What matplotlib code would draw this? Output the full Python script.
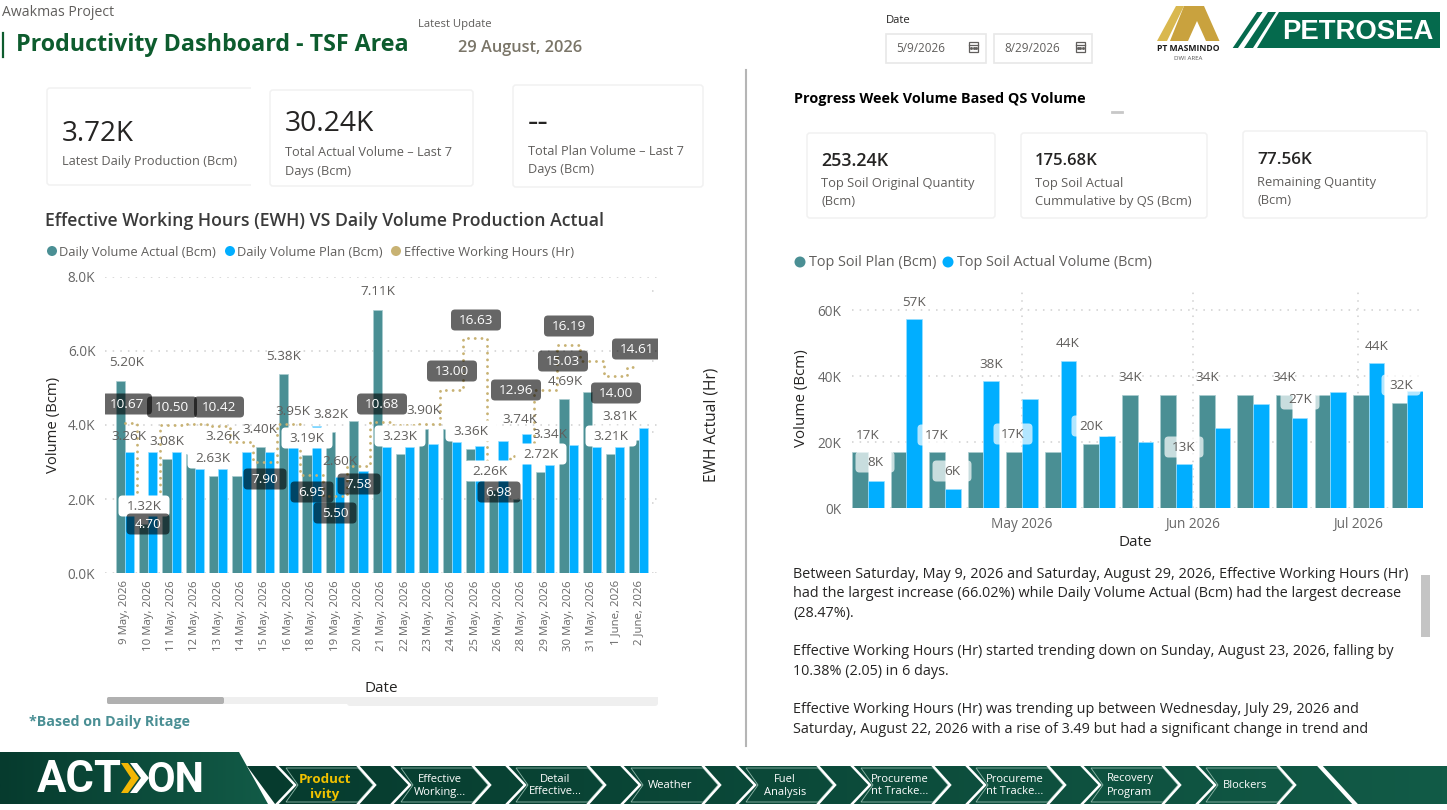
import matplotlib
matplotlib.use("Agg")
import matplotlib.pyplot as plt
import matplotlib.dates as mdates
import numpy as np
from matplotlib.patches import FancyBboxPatch, Polygon, Circle, Rectangle
from matplotlib.ticker import FuncFormatter

plt.rcParams['font.family'] = ['Open Sans', 'DejaVu Sans']

# ---------- data ----------
days = ["9 May, 2026", "10 May, 2026", "11 May, 2026", "12 May, 2026", "13 May, 2026", "14 May, 2026",
        "15 May, 2026", "16 May, 2026", "18 May, 2026", "19 May, 2026", "20 May, 2026", "21 May, 2026",
        "22 May, 2026", "23 May, 2026", "24 May, 2026", "25 May, 2026", "26 May, 2026", "28 May, 2026",
        "29 May, 2026", "30 May, 2026", "31 May, 2026", "1 June, 2026", "2 June, 2026"]
daily_actual = [5.20, 1.32, 3.08, 3.21, 2.63, 2.63, 3.40, 5.38, 3.19, 3.82, 4.10, 7.11,
                3.23, 3.90, 3.90, 3.36, 2.26, 2.00, 2.72, 4.69, 4.89, 3.21, 3.60]
daily_plan = [3.26, 3.26, 3.26, 2.82, 2.82, 3.26, 3.26, 3.40, 3.98, 2.60, 2.76, 3.41,
              3.41, 3.49, 3.55, 3.44, 3.57, 3.75, 2.92, 3.47, 3.41, 3.41, 3.92]
ewh = [10.67, 4.70, 10.50, 10.55, 10.42, 9.30, 7.90, 10.55, 6.95, 5.50, 7.58, 10.68,
       10.50, 10.60, 13.00, 16.63, 6.98, 8.30, 12.96, 16.19, 15.03, 14.00, 14.61]

week_start = ["2026-04-03", "2026-04-10", "2026-04-17", "2026-04-24", "2026-05-01", "2026-05-08",
              "2026-05-15", "2026-05-22", "2026-05-29", "2026-06-05", "2026-06-12", "2026-06-19",
              "2026-06-26", "2026-07-03", "2026-07-10"]
soil_plan = [17.1, 17.1, 17.1, 17.1, 17.1, 17.1, 19.6, 34.4, 34.4, 34.4, 34.4, 34.4, 34.4, 34.4, 32.0]
soil_actual = [8.4, 57.2, 5.9, 38.4, 33.2, 44.5, 22.0, 20.0, 13.3, 24.4, 31.7, 27.4, 35.2, 43.9, 35.6]

# label texts (as read), and where they sit on the page
value_labels = [("5.20K", 127, 362, 0), ("3.26K", 129, 436, 0), ("3.08K", 167, 441, 0), ("1.32K", 144, 506, 1),
                ("2.63K", 213, 458, 1), ("3.26K", 223, 436, 0), ("3.40K", 260, 429, 0), ("5.38K", 284, 356, 0),
                ("3.95K", 293, 411, 0), ("3.19K", 307, 438, 1), ("3.82K", 331, 414, 0), ("2.60K", 340, 461, 0),
                ("7.11K", 378, 291, 0), ("3.23K", 400, 436, 1), ("3.90K", 424, 410, 0), ("3.36K", 471, 431, 1),
                ("2.26K", 490, 471, 1), ("3.74K", 520, 419, 0), ("2.72K", 541, 454, 1), ("3.34K", 550, 434, 0),
                ("4.69K", 565, 381, 0), ("3.81K", 620, 416, 0), ("3.21K", 611, 436, 1)]
hour_labels = [("10.67", 127, 404), ("10.50", 172, 407), ("10.42", 219, 407), ("4.70", 148, 524),
               ("7.90", 265, 479), ("6.95", 312, 492), ("5.50", 335, 513), ("7.58", 359, 484),
               ("10.68", 382, 404), ("13.00", 452, 371), ("16.63", 476, 320), ("12.96", 516, 390),
               ("6.98", 499, 492), ("16.19", 569, 326), ("15.03", 563, 361), ("14.00", 616, 393),
               ("14.61", 637, 349)]
soil_labels = [("17K", 868, 435, 0), ("8K", 875, 462, 1), ("57K", 914, 302, 0), ("17K", 937, 435, 1),
               ("6K", 952, 471, 1), ("38K", 991, 364, 0), ("17K", 1013, 434, 1), ("44K", 1068, 343, 0),
               ("20K", 1091, 426, 1), ("34K", 1130, 377, 0), ("13K", 1184, 447, 1), ("34K", 1207, 377, 0),
               ("34K", 1284, 377, 0), ("27K", 1300, 399, 1), ("44K", 1377, 346, 0), ("32K", 1401, 385, 1)]
nav_items = ["Effective\nWorking...", "Detail\nEffective...", "Weather", "Fuel\nAnalysis",
             "Procureme\nnt Tracke...", "Procureme\nnt Tracke...", "Recovery\nProgram", "Blockers"]
summary = [
    (574, "Between Saturday, May 9, 2026 and Saturday, August 29, 2026, Effective Working Hours (Hr)"),
    (593, "had the largest increase (66.02%) while Daily Volume Actual (Bcm) had the largest decrease"),
    (613, "(28.47%)."),
    (651, "Effective Working Hours (Hr) started trending down on Sunday, August 23, 2026, falling by"),
    (671, "10.38% (2.05) in 6 days."),
    (709, "Effective Working Hours (Hr) was trending up between Wednesday, July 29, 2026 and"),
    (729, "Saturday, August 22, 2026 with a rise of 3.49 but had a significant change in trend and"),
]

TEAL = "#4A8F94"
BLUE = "#01AEFF"
GOLD = "#C8B273"
GRAY = "#605E5C"
INK = "#252423"
W, H = 1447, 810

fig = plt.figure(figsize=(W / 100, H / 100), dpi=100, facecolor="white")


def px_axes(l, t, r, b, **kw):
    return fig.add_axes([l / W, 1 - b / H, (r - l) / W, (b - t) / H], **kw)


# ---------- left chart ----------
ax = px_axes(105, 276.7, 658, 573.3, zorder=2)
x = np.arange(len(days))
bw = 0.394
ax.set_axisbelow(True)
ax.grid(axis="y", color="#cfcfcf", lw=1.1, linestyle=(0, (1, 4)))
ax.bar(x - bw / 2, daily_actual, bw, color=TEAL, edgecolor="#A9CDD0", linewidth=0.5)
ax.bar(x + bw / 2, daily_plan, bw, color=BLUE, edgecolor="#9ADFFF", linewidth=0.5)
ax.set_xlim(-0.85, 22.83)
ax.set_ylim(0, 8)
ax.set_yticks([0, 2, 4, 6, 8])
ax.yaxis.set_major_formatter(FuncFormatter(lambda v, p: f"{v:.1f}K"))
ax.set_xticks(x, days, rotation=90, fontsize=8.2, color="#666666")
ax.tick_params(axis="x", length=0, pad=5)
ax.tick_params(axis="y", length=0, pad=7, labelsize=9.8, labelcolor="#666666")
for s in ax.spines.values():
    s.set_visible(False)
ax2 = ax.twinx()
ax2.set_ylim(0, 21)
ax2.set_yticks([])
for s in ax2.spines.values():
    s.set_visible(False)
ax2.hlines([0, 5, 10, 15, 20], 0.989, 1.0, transform=ax2.get_yaxis_transform(),
           colors="#cfcfcf", lw=1.1, linestyles=[(0, (1, 4))])
ax2.plot(x, ewh, drawstyle="steps-mid", color=GOLD, lw=2.1,
         linestyle=(0, (0.01, 2.3)), dash_capstyle="round", dash_joinstyle="round")

# ---------- right chart ----------
ax3 = px_axes(852, 287, 1423, 508.3, zorder=2)
dates = mdates.date2num(np.array(week_start, dtype="datetime64[D]"))
bd = 2.84
ax3.set_axisbelow(True)
ax3.grid(axis="both", color="#cfcfcf", lw=1.1, linestyle=(0, (1, 4)))
ax3.bar(dates - bd / 2, soil_plan, bd, color=TEAL, edgecolor="#A9CDD0", linewidth=0.5)
ax3.bar(dates + bd / 2, soil_actual, bd, color=BLUE, edgecolor="#9ADFFF", linewidth=0.5)
ax3.set_xlim(dates[0] - 2.9, dates[-1] + 2.88)
ax3.set_ylim(0, 67)
ax3.set_yticks([0, 20, 40, 60])
ax3.yaxis.set_major_formatter(FuncFormatter(lambda v, p: f"{v:.0f}K"))
ax3.xaxis.set_major_locator(mdates.MonthLocator(bymonth=[5, 6, 7]))
ax3.xaxis.set_major_formatter(mdates.DateFormatter("%b %Y"))
ax3.tick_params(axis="x", length=0, pad=6, labelsize=9.8, labelcolor="#666666")
ax3.tick_params(axis="y", length=0, pad=7.5, labelsize=9.8, labelcolor="#666666")
for s in ax3.spines.values():
    s.set_visible(False)

# ---------- overlay in page pixels ----------
ov = fig.add_axes([0, 0, 1, 1], zorder=10)
ov.set_xlim(0, W)
ov.set_ylim(H, 0)
ov.axis("off")
ov.patch.set_alpha(0)
rend = fig.canvas.get_renderer()


def T(x, y, s, size=10, w=None, color=INK, ha="left", va="center", **kw):
    t = ov.text(x, y, s, fontsize=size, color=color, ha=ha, va=va, **kw)
    if w is not None:
        t.set_fontsize(size * w / t.get_window_extent(rend).width)
    t.set_y(y + 1.5 + max(t.get_fontsize() - 9, 0) * 0.12)
    return t


def box(x0, y0, x1, y1, fc="white", ec="none", r=4, lw=1, z=3, clip=None):
    p = FancyBboxPatch((x0 + r, y0 + r), x1 - x0 - 2 * r, y1 - y0 - 2 * r,
                       boxstyle=f"round,pad={r},rounding_size={r}", fc=fc, ec=ec, lw=lw, zorder=z)
    ov.add_patch(p)
    if clip is not None:
        p.set_clip_box(clip)
    return p


# header
T(2, 11, "Awakmas Project", 10, w=112, color=GRAY)
ov.plot([3, 3], [33, 57], color="#0D5C2E", lw=1.6)
T(16, 43, "Productivity Dashboard - TSF Area", 17, w=392, color="#0D5C2E", fontweight="bold")
T(418, 23, "Latest Update", 8, w=74, color=GRAY)
T(458, 46, "29 August, 2026", 11, w=124, color="#7A7568", fontweight="semibold")
T(886, 19, "Date", 8, w=25, color=INK)
for x0, x1, s, tw, ic in [(886, 986, "5/9/2026", 49, 973.5), (994, 1092, "8/29/2026", 55, 1080)]:
    ov.add_patch(Rectangle((x0, 33.5), x1 - x0, 29, fc="white", ec="#E8E8E8", lw=1.2))
    T(x0 + 10, 47, s, 8, w=tw, color=GRAY)
    ov.add_patch(Rectangle((ic - 4.5, 42), 9, 10, fc="white", ec=GRAY, lw=0.9))
    ov.plot([ic - 4.5, ic + 4.5], [44.5, 44.5], color=GRAY, lw=0.9)
    ov.plot([ic - 2.5, ic, ic + 2.5], [48, 48, 48], ls="none", marker="s", ms=1, color=GRAY)

# logos
for pts, col in [([(1157, 41), (1176, 6), (1184, 6), (1167, 41)], "#D9B84F"),
                 ([(1184, 6), (1204, 6), (1219.5, 41), (1206, 41), (1197, 21), (1188, 41), (1170, 41)], "#C9A23E")]:
    ov.add_patch(Polygon(pts, closed=True, fc=col, ec="none"))
T(1188, 47, "PT MASMINDO", 6, w=63, color="#1c1c1c", ha="center", fontweight="bold")
T(1188, 57, "DWI AREA", 4, w=28, color="#555555", ha="center")
P_GREEN = "#056A4D"
ov.add_patch(Polygon([(1279, 12), (1440, 12), (1440, 48), (1257, 48)], closed=True, fc=P_GREEN))
ov.add_patch(Polygon([(1257, 12), (1262.6, 12), (1238, 48), (1232.7, 48)], closed=True, fc=P_GREEN))
ov.add_patch(Polygon([(1268, 12), (1276, 12), (1253, 48), (1244, 48)], closed=True, fc=P_GREEN))
T(1282, 29, "PETROSEA", 17, w=151, color="white", fontweight="bold", family="Liberation Sans")

# separator
ov.plot([746, 746], [70, 746], color="#B5B5B5", lw=1.5)

# cards left
CARD = "#F1F1F1"
for x0, y0, x1, y1 in [(47, 88, 262, 185), (270, 90, 473, 186), (513, 85, 703, 187)]:
    box(x0, y0, x1, y1, ec=CARD, r=3, lw=1.1)
ov.add_patch(Rectangle((250.5, 84), 14, 104, fc="white", ec="none", zorder=3.1))
T(62, 131, "3.72K", 20, w=72, zorder=4)
T(62, 160, "Latest Daily Production (Bcm)", 9, w=176, color=GRAY, zorder=4)
T(285, 121, "30.24K", 20, w=89, zorder=4)
T(285, 151, "Total Actual Volume – Last 7", 9, w=168, color=GRAY, zorder=4)
T(285, 170, "Days (Bcm)", 9, w=66, color=GRAY, zorder=4)
T(528, 120, "--", 20, w=21, zorder=4)
T(528, 150, "Total Plan Volume – Last 7", 9, w=156, color=GRAY, zorder=4)
T(528, 168, "Days (Bcm)", 9, w=66, color=GRAY, zorder=4)

# cards right
for x0, y0, x1, y1 in [(807, 133, 995, 218), (1021, 133, 1207, 218), (1243, 131, 1427, 218)]:
    box(x0, y0, x1, y1, ec=CARD, r=3, lw=1.1)
T(794, 97, "Progress Week Volume Based QS Volume", 10, w=292, color="black", fontweight="bold")
ov.plot([1112, 1122], [112, 112], color="#C8C8C8", lw=2)
T(821, 159, "253.24K", 12.5, w=67, fontweight="semibold", zorder=4)
T(821, 182, "Top Soil Original Quantity", 9, w=155, color=GRAY, zorder=4)
T(821, 200, "(Bcm)", 9, w=34, color=GRAY, zorder=4)
T(1035, 159, "175.68K", 12.5, w=63, fontweight="semibold", zorder=4)
T(1035, 182, "Top Soil Actual", 9, w=89, color=GRAY, zorder=4)
T(1035, 200, "Cummulative by QS (Bcm)", 9, w=157, color=GRAY, zorder=4)
T(1257, 158, "77.56K", 12.5, w=55, fontweight="semibold", zorder=4)
T(1257, 181, "Remaining Quantity", 9, w=120, color=GRAY, zorder=4)
T(1257, 199, "(Bcm)", 9, w=34, color=GRAY, zorder=4)

# left headings / legend
T(45, 219, "Effective Working Hours (EWH) VS Daily Volume Production Actual", 11.5, w=558,
  color="#3A3A3A", fontweight="semibold")
for cx, col, tx, s, w in [(52, TEAL, 59, "Daily Volume Actual (Bcm)", 158),
                          (230, BLUE, 237, "Daily Volume Plan (Bcm)", 146),
                          (396, GOLD, 404, "Effective Working Hours (Hr)", 171)]:
    ov.add_patch(Circle((cx, 251), 5, fc=col, ec="none"))
    T(tx, 251, s, 9, w=w, color=GRAY)
T(53, 423, "Volume (Bcm)", 10.7, color=INK, rotation=90, ha="center")
T(711, 423, "EWH Actual (Hr)", 11.2, color=INK, rotation=90, ha="center")
T(381, 687, "Date", 11, color=INK, ha="center")

# scrollbar + note
ov.add_patch(Rectangle((107, 697), 551, 7, fc="#EFEFEF", ec="none"))
box(347, 697, 658, 706, fc="#EFEFEF", r=3)
box(107, 697, 224, 704, fc="#B0B0B0", r=2)
T(29, 720, "*Based on Daily Ritage", 10, w=161, color=TEAL, fontweight="bold")

# right legend
for cx, col, tx, s, w in [(800, TEAL, 809, "Top Soil Plan (Bcm)", 127),
                          (948, BLUE, 957, "Top Soil Actual Volume (Bcm)", 195)]:
    ov.add_patch(Circle((cx, 262), 5.5, fc=col, ec="none"))
    T(tx, 261, s, 10, w=w, color=GRAY)
T(802, 396, "Volume (Bcm)", 10.9, color=INK, rotation=90, ha="center")
T(1135, 541, "Date", 11, color=INK, ha="center")

# left chart labels
for s, cx, cy, b in value_labels:
    if b:
        box(cx - 25.5, cy - 10.5, cx + 25.5, cy + 10.5, fc="white", z=5, r=4)
    T(cx, cy - 1, s, 9.7, color=GRAY, ha="center", zorder=6)
for s, cx, cy in hour_labels:
    hw = 25 if len(s) == 5 else 21.5
    box(cx - hw, cy - 10.5, cx + hw, cy + 10.5, fc=(0, 0, 0, 0.6), z=7, r=4, clip=ax.bbox)
    t = T(cx, cy - 1, s, 9.7, color="white", ha="center", zorder=8)
    t.set_clip_box(ax.bbox)
    t.set_clip_on(True)

# right chart labels
for s, cx, cy, b in soil_labels:
    if b:
        box(cx - 19.5, cy - 10.5, cx + 19.5, cy + 10.5, fc=(1, 1, 1, 0.7), z=5, r=4)
    T(cx, cy - 1, s, 9.7, color=GRAY, ha="center", zorder=6)

# narrative text
for y, s in summary:
    T(793, y - 1, s, 10.33, color=INK)
ov.add_patch(Rectangle((1421, 575), 9, 62, fc="#C4C4C4", ec="none"))

# bottom nav
grad = np.linspace(0, 1, 256).reshape(1, -1)
cmap_nav = matplotlib.colors.LinearSegmentedColormap.from_list("n", ["#063B2E", "#125B47"])
band = Polygon([(247, 766), (1447, 766), (1447, 804), (275, 804)], closed=True, transform=ov.transData)
logo = Polygon([(0, 752), (239, 752), (268, 804), (0, 804)], closed=True, transform=ov.transData)
im = ov.imshow(grad, extent=(247, 1447, 804, 766), aspect="auto", cmap=cmap_nav, zorder=1)
im.set_clip_path(band)
im2 = ov.imshow(grad, extent=(0, 268, 804, 752), aspect="auto", cmap=cmap_nav, zorder=1)
im2.set_clip_path(logo)
ov.set_xlim(0, W)
ov.set_ylim(H, 0)
for k in range(9):
    L = 286 + 115 * k
    ov.add_patch(Polygon([(L, 768), (L + 72, 768), (L + 87, 785), (L + 72, 802), (L, 802), (L + 12, 785)],
                         closed=True, fc="none", ec="#8FB8AA", lw=0.6, zorder=2))
    for x0, off in ((277 + 115 * k, 18), (358 + 115 * k, 17)):
        ov.plot([x0, x0 + off, x0], [766, 785, 804], color="white", lw=1.8, zorder=2,
                solid_joinstyle="miter")
ov.plot([1320, 1355], [766, 804], color="white", lw=3, zorder=2)
T(325, 785, "Product\nivity", 9.6, color="#F2C200", ha="center", fontweight="bold", zorder=4, linespacing=1.2)
for k, s in enumerate(nav_items):
    T(440 + 115 * k, 784, s, 8, color="white", ha="center", zorder=4, linespacing=1.25)
T(37, 776, "ACT", 26, w=85, color="white", fontweight="bold", family="Roboto", zorder=4)
T(146, 776, "ON", 26, w=58, color="white", fontweight="bold", family="Roboto", zorder=4)
ov.add_patch(Polygon([(121, 763), (128, 763), (139, 778), (128, 793), (121, 793), (131, 778)],
                     closed=True, fc="#F2B705", zorder=4))
ov.add_patch(Polygon([(130, 763), (137, 763), (149, 778), (137, 793), (130, 793), (141, 778)],
                     closed=True, fc="white", zorder=4))

fig.savefig("out.png", dpi=100)
